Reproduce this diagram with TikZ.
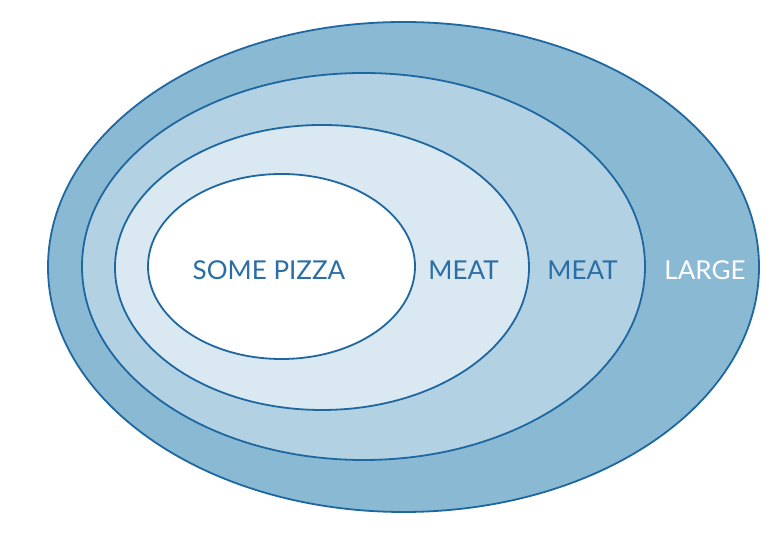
\documentclass[tikz,border=0pt]{standalone}
\usepackage{fontspec}
\setmainfont{Lato}
\usepackage{tikz}

\definecolor{ringline}{HTML}{1F67A0}
\definecolor{ringtext}{HTML}{2A6EA5}
\definecolor{ringa}{HTML}{8AB9D3}
\definecolor{ringb}{HTML}{B2D2E4}
\definecolor{ringc}{HTML}{D9E8F1}

\begin{document}
\begin{tikzpicture}[x=1pt,y=1pt,line width=1.8pt]
  \useasboundingbox (0,0) rectangle (778,534);
  % nested sets, largest first
  \begin{scope}[draw=ringline]
    \draw[fill=ringa] (403.5,267) ellipse [x radius=355.5, y radius=245];
    \draw[fill=ringb] (363.5,267.5) ellipse [x radius=281.5, y radius=193.5];
    \draw[fill=ringc] (322,266.5) ellipse [x radius=207, y radius=142.5];
    \draw[fill=white] (281.5,267.5) ellipse [x radius=133.5, y radius=92.5];
  \end{scope}
  \begin{scope}[font=\fontsize{26}{26}\selectfont, text=ringtext]
    \node (pizza) at (269,264)  {SOME PIZZA};
    \node (meat1) at (463.5,264) {MEAT};
    \node (meat2) at (582.5,264) {MEAT};
    \node[text=white] (large) at (705,264) {LARGE};
  \end{scope}
\end{tikzpicture}
\end{document}
